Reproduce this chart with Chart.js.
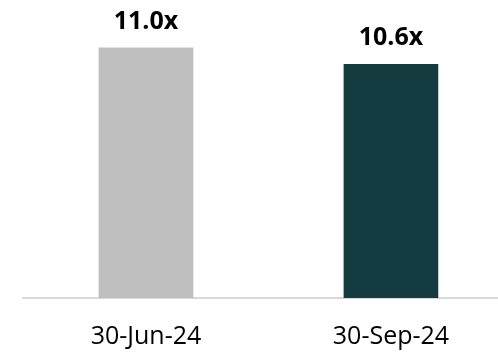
<!DOCTYPE html>
<html>
<head>
<meta charset="utf-8">
<script src="https://cdn.jsdelivr.net/npm/chart.js@4/dist/chart.umd.min.js"></script>
<style>
  html, body { margin: 0; padding: 0; background: #ffffff; overflow: hidden; }
  #wrap { width: 498px; height: 354px; position: relative; }
</style>
</head>
<body>
<div id="wrap"><canvas id="chart" width="498" height="354"></canvas></div>
<script>
// Period labels and leverage multiples
const periods = ['30-Jun-24', '30-Sep-24'];
const multiples = [11.0, 10.6];
const barColors = ['#bfbfbf', '#143b40'];

const FONT = "'Open Sans', 'Noto Sans', sans-serif";

// Writes "11.0x"-style labels above each bar
const valueLabels = {
  id: 'valueLabels',
  afterDatasetsDraw(chart) {
    const ctx = chart.ctx;
    const meta = chart.getDatasetMeta(0);
    ctx.save();
    ctx.font = `bold 25px ${FONT}`;
    ctx.fillStyle = '#000000';
    ctx.textAlign = 'center';
    ctx.textBaseline = 'alphabetic';
    meta.data.forEach((bar, i) => {
      ctx.fillText(multiples[i].toFixed(1) + 'x', bar.x, bar.y - 19);
    });
    ctx.restore();
  }
};

new Chart(document.getElementById('chart'), {
  type: 'bar',
  data: {
    datasets: [{
      data: multiples.map((v, i) => ({ x: i, y: v })),
      backgroundColor: barColors,
      borderWidth: 0,
      barThickness: 94
    }]
  },
  options: {
    responsive: false,
    animation: false,
    layout: { padding: { left: 23, right: 0, top: 6, bottom: 0 } },
    plugins: { legend: { display: false }, tooltip: { enabled: false } },
    scales: {
      x: {
        type: 'linear',
        offset: false,
        min: -0.502,
        max: 1.437,
        afterBuildTicks(scale) {
          scale.ticks = periods.map((_, i) => ({ value: i }));
        },
        afterFit(scale) {
          scale.height = 56;
        },
        ticks: {
          callback: (v) => periods[v],
          color: '#000000',
          font: { family: FONT, size: 25 },
          padding: 24,
          maxRotation: 0,
          autoSkip: false
        },
        grid: { display: false, drawTicks: false },
        border: { display: true, color: '#d9d9d9', width: 2 }
      },
      y: {
        display: false,
        min: 5,
        max: 12
      }
    }
  },
  plugins: [valueLabels]
});
</script>
</body>
</html>
